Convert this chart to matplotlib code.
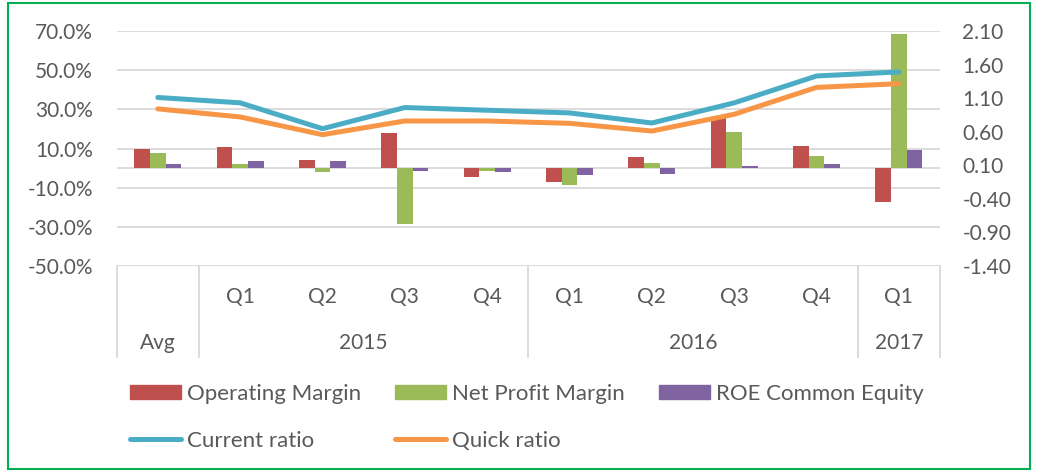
import numpy as np
import matplotlib
matplotlib.use('Agg')
import matplotlib.pyplot as plt
from matplotlib.patches import Rectangle
from matplotlib.lines import Line2D

plt.rcParams['font.family'] = ['Lato', 'DejaVu Sans']

# data
quarters = ['', 'Q1', 'Q2', 'Q3', 'Q4', 'Q1', 'Q2', 'Q3', 'Q4', 'Q1']
groups = [('Avg', 0, 0), ('2015', 1, 4), ('2016', 5, 8), ('2017', 9, 9)]
operating_margin = [9.8, 10.8, 4.3, 18.1, -4.5, -6.9, 5.8, 26.0, 11.3, -17.3]
net_profit_margin = [7.7, 2.2, -1.8, -28.4, -1.5, -8.4, 2.7, 18.3, 6.3, 68.4]
roe_common_equity = [2.1, 3.7, 3.7, -1.5, -2.0, -3.4, -3.0, 1.2, 2.2, 9.4]
current_ratio = [1.11, 1.03, 0.645, 0.96, 0.92, 0.88, 0.73, 1.03, 1.43, 1.49]
quick_ratio = [0.94, 0.82, 0.556, 0.76, 0.76, 0.725, 0.61, 0.86, 1.26, 1.315]

red = '#C0504D'
green = '#9BBB59'
purple = '#8064A2'
blue = '#4BACC6'
orange = '#F79646'
grid = '#D9D9D9'
txt = '#595959'
fs = 15

fig = plt.figure(figsize=(10.37, 4.71), dpi=100)
ax = fig.add_axes([0.1125, 0.4352, 0.794, 0.499])
x = np.arange(len(quarters))
w = 0.19

# bars on the left (percentage) axis
ax.bar(x - w, operating_margin, w, color=red, zorder=3)
ax.bar(x, net_profit_margin, w, color=green, zorder=3)
ax.bar(x + w, roe_common_equity, w, color=purple, zorder=3)
ax.axhline(0, color=grid, lw=1.3, zorder=2)

ax.set_xlim(-0.5, len(quarters) - 0.5)
ax.set_ylim(-50, 70)
ax.set_yticks(np.arange(-50, 71, 20))
ax.set_yticklabels(['{:.1f}%'.format(v) for v in np.arange(-50, 71, 20)])
ax.yaxis.grid(True, color=grid, lw=1.3, zorder=0)
ax.set_xticks([])
ax.tick_params(axis='y', length=0, pad=17, labelsize=fs, labelcolor=txt)
for s in ax.spines.values():
    s.set_visible(False)

# lines on the right (ratio) axis
ax2 = ax.twinx()
ax2.plot(x, current_ratio, color=blue, lw=3.6, solid_capstyle='round', solid_joinstyle='round', zorder=4)
ax2.plot(x, quick_ratio, color=orange, lw=3.6, solid_capstyle='round', solid_joinstyle='round', zorder=4)
ax2.set_ylim(-1.40, 2.10)
rt = np.arange(-1.40, 2.11, 0.5)
ax2.set_yticks(rt)
ax2.set_yticklabels(['{:.2f}'.format(v) for v in rt])
ax2.tick_params(axis='y', length=0, pad=16, labelsize=fs, labelcolor=txt)
for s in ax2.spines.values():
    s.set_visible(False)

# two-level category axis
trans = ax.get_xaxis_transform()
for i, q in enumerate(quarters):
    ax.text(i, -0.132, q, transform=trans, ha='center', va='center', fontsize=fs, color=txt)
for name, a, b in groups:
    ax.text((a + b) / 2, -0.328, name, transform=trans, ha='center', va='center', fontsize=fs, color=txt)
for sep in [-0.5, 0.5, 4.5, 8.5, 9.5]:
    ax.plot([sep, sep], [0, -0.387], transform=trans, color=grid, lw=1.3, clip_on=False)

# legend
handles = [
    Rectangle((0, 0), 1, 1, color=red),
    Line2D([], [], color=blue, lw=3.6, solid_capstyle='round'),
    Rectangle((0, 0), 1, 1, color=green),
    Line2D([], [], color=orange, lw=3.6, solid_capstyle='round'),
    Rectangle((0, 0), 1, 1, color=purple),
]
labels = ['Operating Margin', 'Current ratio', 'Net Profit Margin', 'Quick ratio', 'ROE Common Equity']
leg = fig.legend(handles, labels, ncol=3, loc='upper left', bbox_to_anchor=(130 / 1037, 1 - 384 / 471),
                 frameon=False, fontsize=16, borderpad=0, borderaxespad=0, handlelength=2.3,
                 handleheight=0.6, handletextpad=0.25, columnspacing=1.55, labelspacing=1.2,
                 labelcolor=txt)

# green frame round the chart
fig.patches.append(Rectangle((8 / 1037, 2 / 471), 1022 / 1037, 466 / 471, transform=fig.transFigure,
                             fill=False, edgecolor='#00B050', lw=1.5))

fig.savefig('out.png', dpi=100)
